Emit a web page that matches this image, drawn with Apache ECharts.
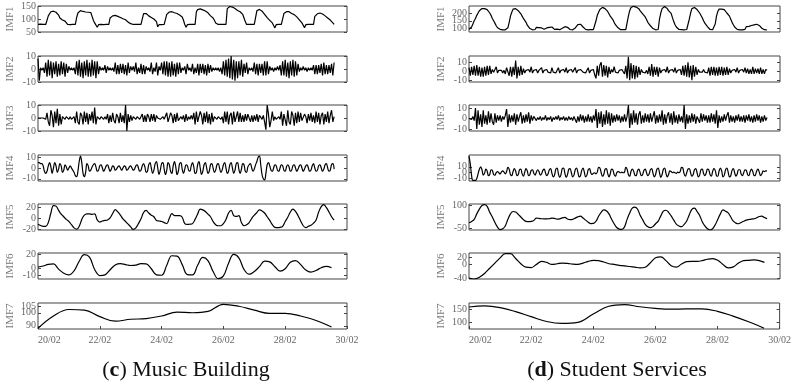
<!DOCTYPE html>
<html lang="en">
<head>
<meta charset="UTF-8">
<title>IMF decomposition</title>
<script src="https://cdn.jsdelivr.net/npm/echarts@6/dist/echarts.min.js"></script>
<style>
  html, body { margin: 0; padding: 0; background: #fff; }
  #main { width: 794px; height: 383px; }
</style>
</head>
<body>
<div id="main"></div>
<script>
// x axis in hours from 20/02 00:00, ticks every 2 days
var dayLabels = ['20/02', '22/02', '24/02', '26/02', '28/02', '30/02'];
var imfNames = ['IMF1', 'IMF2', 'IMF3', 'IMF4', 'IMF5', 'IMF6', 'IMF7'];

// ---- (c) Music Building ----
var musicImf1 = [ // hourly
  79,79,80,79,79,78,79,79,112,118,128,133,130,131,126,123,115,104,98,96,93,92,86,79,
  79,78,79,79,78,79,105,123,128,132,131,129,130,127,128,126,127,125,110,95,85,79,68,78,
  78,79,79,78,79,79,78,79,104,108,112,115,114,112,110,108,106,103,101,99,97,92,88,85,
  82,79,79,78,79,79,79,78,79,79,121,118,121,120,112,110,106,104,100,95,90,70,78,79,
  78,79,79,79,118,123,127,130,128,126,124,123,121,118,115,113,108,95,79,68,78,79,79,78,
  79,79,79,128,136,137,139,138,135,133,131,129,124,118,112,108,104,95,85,79,79,78,79,79,
  79,78,79,140,146,148,149,146,143,140,136,133,130,128,126,118,104,90,79,79,79,78,79,79,
  79,78,132,139,137,133,130,124,118,112,105,100,95,92,85,75,66,78,79,79,78,79,79,121,
  124,128,130,128,124,121,118,117,113,108,102,97,92,85,78,66,78,79,79,78,79,79,79,110,
  117,120,122,123,122,119,116,112,110,104,98,96,92,85,79
];
var musicImf2 = [ // hourly
  8,-9,1,-1,1,-3,5,-6,7,-5,6,-7,5,-4,6,-6,4,-5,6,-4,5,-6,4,-3,
  2,-1,1,-1,1,-4,6,-5,7,-6,5,-7,6,-5,7,-6,5,-6,7,-5,6,-7,6,-4,
  2,-1,1,-1,3,-3,2,-1,1,-1,1,-2,5,-4,3,-4,4,-3,4,-4,3,-5,5,-3,
  2,-1,2,-2,5,-4,1,-3,4,-4,3,-4,2,-1,1,-2,5,-4,1,-2,5,-5,2,-1,
  5,-4,6,-5,6,-6,5,-6,6,-5,4,-6,5,-4,5,-3,1,-1,2,-4,4,-1,1,-2,
  4,-4,1,-3,4,-5,4,-3,4,-4,3,-5,4,-3,3,-2,1,-1,1,-1,1,-2,1,-4,
  6,-5,7,-6,8,-7,10,-8,7,-9,6,-7,6,-5,7,-6,4,-3,5,-4,1,-1,1,-2,
  5,-4,4,-5,4,-3,4,-5,6,-5,6,-4,2,-1,1,-2,1,-1,2,-1,3,-5,6,-5,
  7,-6,5,-7,6,-5,7,-6,6,-5,4,-2,1,-1,2,-1,1,-2,1,-1,1,-1,3,-4,
  3,-4,3,-3,4,-5,5,-4,3,-4,3,-3,4,-5,5
];
var musicImf3 = [ // hourly
  0,1,0,-1,0,1,-1,4,-3,-6,6,2,-7,5,-4,7,-6,3,-5,
  1,0,-1,1,0,-1,1,-1,0,1,-4,5,-3,-5,4,2,-5,5,-3,4,-5,3,-2,5,-4,8,
  -5,1,0,-1,1,0,-1,1,-1,3,-4,2,-3,4,-2,-4,3,1,-4,4,-3,2,-4,
  10,-10,3,-3,2,-2,1,0,-1,1,0,-1,0,3,-3,2,-3,3,1,-3,3,-2,3,-3,2,
  0,1,-1,0,1,-1,0,4,-3,-4,4,2,-4,3,-3,4,-2,-3,1,-1,2,-3,3,-2,1,-1,2,-1,
  4,-5,5,-3,-4,5,2,-5,4,-3,5,-4,3,-5,4,-3,1,0,-1,1,0,-1,1,
  -4,5,-3,5,-5,2,4,-5,5,-3,-4,5,-3,4,-3,2,-3,3,-2,3,4,-3,2,-3,2,-2,3,-3,2,
  1,-1,2,-3,-9,10,3,-7,-2,5,-2,1,-1,0,1,-1,
  5,-6,3,4,-6,6,-3,-5,5,2,-6,4,-4,5,-3,4,-2,-3,3,1,-4,3,-2,4,-3,2,
  -4,5,-3,4,-5,2,4,-5,3,-3,5,-4,2,6,-3,1
];
var musicImf4 = [ // hourly
  5,5,4,4,2,-3,-5,-3,2,5,1,-5,0,5,2,-4,-1,4,2,-4,-2,3,1,-2,
  0,2,0,-2,-4,-7,-8,-3,6,11,5,-5,-8,-4,4,2,-3,-2,1,3,4,1,-3,-2,
  2,3,0,-3,-1,2,3,0,-3,-1,2,1,-2,-1,1,2,0,-2,0,2,1,-2,-1,1,
  2,0,-2,-1,2,3,0,-3,-2,2,4,1,-4,-3,3,5,0,-5,-2,4,6,0,-6,-2,
  4,5,-1,-6,-2,5,3,-3,-5,2,6,1,-6,-3,4,5,-1,-5,-1,3,2,-2,-3,2,
  5,1,-5,-4,3,6,0,-6,-3,3,5,0,-5,-3,3,4,0,-4,-2,3,4,0,-4,-2,
  3,5,0,-5,-3,3,5,0,-5,-2,4,5,-1,-5,-1,4,3,-3,-4,1,3,4,0,-3,
  -1,3,6,10,11,3,-6,-10,-11,-5,3,5,2,-2,-3,0,3,2,-2,-3,0,3,2,-2,
  -3,1,3,1,-3,-2,2,3,0,-3,-1,2,3,0,-3,-1,2,3,0,-3,-2,2,4,0,
  -3,-2,2,3,0,-3,-1,3,4,0,-3,-2,3,4,-1
];
var musicImf5 = [ // every 2 h
  -11,-13.5,-15,-15,-8,10,24,23,15,8,3,-2,-6,-12,-18,-20.5,-15,-2,6,8.5,
  8.5,7.5,8.5,-3,-7,-5,-4,-3,1,9,16.5,12,6,-1,-6,-11,-16,-21,-18,-10,
  -1,11,15,10,6,3,-4,-5,-6,-8,-10,0,9,5,5,5,2,-10,-11.5,-11,
  -10,-2,8,17.5,16,13,8,3,-6,-12,-14,-14,-10,-2,10,15,5,3.5,5,-8,
  -14,-12,-8,0,6,11,16,14,10,3,-4,-12,-17,-17.5,-17,-15,-6,2,12,17.5,
  13,5,-5,-14,-17.5,-15,-13,-9,-3,12,22,26,20,12,3,-3.5
];
var musicImf6 = [ // every 4 h
  1.5,3,5.5,6,-1.5,-7.5,-10,-4,10,19.5,16,-2,-11,-10,-2.5,4.5,6.4,5,3.7,4.2,
  6.5,6,-1,-10,-10.5,4,18,17.5,5,-9.5,-10,4,15.5,11,-5,-15.5,-11.5,7,20,15,
  -2,-9,-5,2,10,9,2,-4.5,-1,8.5,11,5,-3,-6,-3.5,0.5,2.5,0.5
];
var musicImf7 = [ // every 12 h
  88,97.5,102.5,102,97,93.5,95,95.5,97.5,100.5,100,101,106.5,105,102,99.5,99.5,97.5,94,89
];

// ---- (d) Student Services ----
var studentImf1 = [ // hourly
  96,100,110,130,150,165,185,200,215,225,229,232,228,225,222,215,200,185,165,150,135,118,105,97,
  95,93,92,94,92,93,105,140,180,205,225,231,228,222,215,210,195,180,165,155,140,122,110,100,
  93,92,93,94,108,104,106,100,104,98,96,98,104,106,108,112,110,100,95,93,96,94,93,95,
  102,110,112,115,108,98,94,93,92,96,104,116,125,132,128,120,110,100,95,93,92,92,93,92,
  93,98,150,185,205,222,232,236,233,228,220,210,195,180,168,158,140,125,115,105,98,93,92,93,
  92,93,94,180,215,235,244,243,240,238,236,228,215,205,195,188,175,158,140,128,118,108,100,93,
  92,93,94,160,200,228,238,242,236,228,215,205,198,170,145,125,110,100,94,92,93,92,92,93,
  94,95,160,200,228,233,235,230,222,210,200,190,170,150,135,125,112,100,94,92,93,93,130,180,
  210,225,226,225,226,222,210,200,190,180,160,140,125,110,100,95,93,92,93,92,104,95,112,117,
  114,118,120,122,124,126,128,127,120,110,102,96,93,92,91
];
var studentImf2 = [ // hourly
  4,-5,5,-4,6,-5,7,-5,5,-6,4,-6,5,-5,6,-4,6,-3,2,-1,1,5,-2,1,
  -1,1,-2,1,-3,4,6,-5,5,-6,5,-4,12,-8,5,-5,6,-4,3,-2,1,-1,2,-1,
  5,-2,1,-1,2,-2,1,-1,4,-2,1,-1,2,-1,1,-2,4,-1,1,-2,1,4,-2,1,
  -1,2,-1,4,-2,1,-1,2,-1,1,4,-2,1,-1,2,3,-1,1,-2,1,4,-2,1,-1,
  2,-4,-8,6,-5,7,10,-6,7,-5,6,-7,5,-3,2,-1,5,-1,1,-2,1,-1,2,4,
  -3,6,-8,16,-10,9,-8,7,-9,6,-7,5,-4,2,-1,1,-2,1,-3,5,-5,8,-6,5,
  -4,5,-6,4,-2,1,-1,2,-1,5,-2,1,-1,2,-1,4,-2,1,-1,2,-4,6,-5,7,
  -6,10,-7,6,-10,7,-6,5,-4,2,-1,1,-1,2,-1,1,-2,4,-5,5,-4,5,-5,4,
  -5,5,-4,5,-5,4,-4,5,-4,3,-2,1,-1,2,-1,4,-2,1,-1,2,-1,4,-2,3,
  -3,2,-3,5,-3,3,-2,3,-3,4,-3,2,-3,2,1
];
var studentImf3 = [ // hourly
  0,1,-1,2,-2,10,-10,8,-6,4,-8,8,-5,3,-6,7,-4,5,-3,-6,5,-4,3,
  -2,3,-3,2,-1,3,9,-8,4,
  -4,3,-3,5,-6,4,-3,2,6,-5,3,-4,4,-3,6,-5,3,-2,2,
  1,-2,1,-1,2,-2,1,-1,3,-2,1,-1,2,-3,1,-1,2,-1,3,-2,1,-1,2,-2,1,-2,2,-1,1,-2,2,
  3,-4,2,-3,4,-2,3,-4,2,-3,4,-3,2,-4,3,-2,
  9,-9,6,-5,7,-8,4,-6,8,-5,6,-7,5,-4,3,-3,4,-2,3,-4,2,-3,4,-3,2,
  13,-9,5,-6,8,-4,5,-6,4,7,-5,3,-4,5,-3,4,-4,5,-3,2,7,-5,3,-4,4,-3,
  8,-6,4,-5,3,6,-4,5,-6,7,-4,3,-5,4,-3,2,-4,13,-10,
  4,-5,3,-4,5,-3,4,-5,2,3,-4,5,-3,4,-2,3,-4,3,-4,5,-3,4,-5,8,-9,
  3,-4,2,-3,4,-2,3,6,-4,3,-3,2,-4,3,-2,4,-3,2,-3,3,
  -4,3,-2,4,-3,2,-4,3,-3,4,-2,3,-4,2,-3,3,-2,1
];
var studentImf4 = [ // hourly
  28,15,-5,-13,-13,-13,-10,-2,6,10,5,-4,-1,6,3,-5,-3,5,4,-3,-4,0,2,0,
  -2,1,3,1,-2,2,9,6,-3,-5,2,7,3,-5,-3,5,6,-2,-6,1,7,3,-5,-3,
  4,5,-1,-4,1,5,2,-4,-2,4,6,0,-5,-2,5,7,-1,-7,-4,6,8,-2,-8,-3,
  7,8,-1,-8,-3,6,7,0,-7,-4,5,8,1,-7,-5,4,8,1,-7,-4,5,7,0,-3,
  -1,0,-2,1,9,8,0,-6,-3,6,7,-1,-7,-2,6,5,-3,-6,0,2,1,0,1,0,
  1,9,6,-3,-6,2,6,3,-4,-5,3,6,1,-5,-3,4,6,0,-5,-2,5,7,-1,-7,
  -3,6,8,0,-8,-3,6,8,-1,-7,-3,3,2,0,1,0,-1,1,0,2,9,8,-2,-6,
  0,6,7,0,-6,-3,5,7,0,-7,-4,5,6,-1,-5,-1,6,5,-3,-6,2,7,4,-5,
  -6,3,8,3,-7,-4,5,8,1,-7,-5,4,7,0,-6,-2,5,5,-2,-5,0,5,4,-3,
  -5,2,6,2,-5,-4,3,6,1,-5,-2,3,2,3,3
];
var studentImf5 = [ // every 2 h
  -12,-3,10,45,75,98,104,93,55,25,-10,-40,-56,-50,-32,10,45,60,57,42,
  25,8,-3,-5,-3,3,18,16,14,13,13,14,18,16,11,13,19,22,12,8,
  10,18,26,30,18,5,-8,-17,-16,-2,30,55,71,65,45,12,-18,-42,-52,-54,
  -38,10,50,82,88,76,38,8,-22,-38,-43,-35,-18,-1,32,62,68,55,32,5,
  -20,-32,-37,-22,0,40,74,82,60,35,-5,-32,-50,-58,-50,-25,10,45,70,62,
  51,25,-2,-14,-18,-10,-2,5,9,12,14,20,28,30,22,14
];
var studentImf6 = [ // every 4 h
  -40,-43,-38,-27,-12,3,18,30,30,16,1,-9,-10,-1,8,5,-1,1,3,2,
  0,-1,3,8,11,10,6,1,-1,-3.5,-5,-7,-9,-11,-9,4,18,21,10,-5,
  -9,0,7,8,8,10,14,16,11,-1,-11,-8,3,10,11,12,10,5
];
var studentImf7 = [ // every 12 h
  157,161,155,140,121,103,96,100,131,160,166,158,152,149,150,150,141,123,102,78
];

// value ranges and tick labels
var musicRanges = [[50, 150], [-10, 10], [-10, 10], [-12, 12], [-22, 27], [-16, 22], [87.5, 107.5]];
var musicTicks = [[50, 100, 150], [-10, 0, 10], [-10, 0, 10], [-10, 0, 10], [-20, 0, 20], [-10, 0, 20], [90, 100, 105]];
var studentRanges = [[78, 245], [-12, 17], [-12, 13], [-14, 30], [-58, 108], [-43, 32], [75, 172]];
var studentTicks = [[100, 150, 200], [-10, 0, 10], [-10, 0, 10], [-10, 0, 10], [-50, 100], [-40, 0, 20], [100, 150]];

var musicSeries = [musicImf1, musicImf2, musicImf3, musicImf4, musicImf5, musicImf6, musicImf7];
var studentSeries = [studentImf1, studentImf2, studentImf3, studentImf4, studentImf5, studentImf6, studentImf7];
var stepHours = [1, 1, 1, 1, 2, 4, 12];

var FONT = 'Liberation Serif';
var panelTops = [6, 56, 105, 155, 204, 253, 303];
var grids = [], xAxes = [], yAxes = [], series = [];

function yLabelAxis(idx, range, labels, extra) {
  var ax = {
    type: 'value', gridIndex: idx, position: 'left', offset: 0,
    min: range[0], max: range[1],
    axisLine: { show: false }, splitLine: { show: false },
    axisTick: { show: false },
    axisLabel: {
      customValues: labels, color: '#666', fontFamily: FONT, fontSize: 10,
      margin: 2, hideOverlap: false, showMinLabel: true, showMaxLabel: true
    }
  };
  for (var k in extra) ax[k] = extra[k];
  return ax;
}

function addPanel(col, i, values, range, ticks) {
  var idx = grids.length;
  grids.push({
    left: col === 0 ? 38 : 469,
    width: col === 0 ? 309 : 311,
    top: panelTops[i],
    height: 26,
    show: true,
    borderColor: '#444',
    borderWidth: 1
  });
  var last = i === 6;
  xAxes.push({
    type: 'value', gridIndex: idx, min: 0, max: 240, interval: 48,
    axisLine: { show: false }, splitLine: { show: false },
    axisTick: { show: last, inside: true, length: 3, lineStyle: { color: '#444' } },
    axisLabel: {
      show: last, color: '#666', fontFamily: FONT, fontSize: 10, margin: 6,
      alignMinLabel: 'left', hideOverlap: false,
      formatter: function (v) { return dayLabels[Math.round(v / 48)]; }
    }
  });
  // labels are split over two axes so close labels are not dropped
  var outer = ticks.filter(function (t, k) { return k % 2 === 0; });
  var inner = ticks.filter(function (t, k) { return k % 2 === 1; });
  var mainIndex = yAxes.length;
  yAxes.push(yLabelAxis(idx, range, outer, {
    name: imfNames[i], nameLocation: 'middle', nameGap: 22,
    nameTextStyle: { color: '#777', fontFamily: FONT, fontSize: 11 },
    axisTick: { inside: true, length: 3, customValues: ticks, lineStyle: { color: '#444' } }
  }));
  yAxes.push(yLabelAxis(idx, range, inner, {}));
  // ticks on the right edge of the box
  yAxes.push({
    type: 'value', gridIndex: idx, position: 'right', offset: 0,
    min: range[0], max: range[1],
    axisLine: { show: false }, splitLine: { show: false },
    axisTick: { inside: true, length: 3, customValues: ticks, lineStyle: { color: '#444' } },
    axisLabel: { show: false }
  });
  var step = stepHours[i];
  series.push({
    type: 'line', xAxisIndex: idx, yAxisIndex: mainIndex,
    data: values.map(function (v, k) { return [k * step, v]; }),
    showSymbol: false, symbol: 'none',
    smooth: i >= 3 ? 0.4 : false,
    lineStyle: { color: '#000', width: 1.2 },
    clip: true
  });
}

for (var i = 0; i < 7; i++) {
  addPanel(0, i, musicSeries[i], musicRanges[i], musicTicks[i]);
  addPanel(1, i, studentSeries[i], studentRanges[i], studentTicks[i]);
}

var captionStyle = {
  fontFamily: FONT, fontSize: 22, color: '#111', fontWeight: 'normal',
  rich: {
    p: { fontFamily: FONT, fontSize: 22, color: '#111', fontWeight: 'normal' },
    b: { fontFamily: FONT, fontSize: 22, color: '#111', fontWeight: 'bold' }
  }
};

var myChart = echarts.init(document.getElementById('main'));
var option = {
  animation: false,
  backgroundColor: '#fff',
  title: [
    { text: '{p|(}{b|c}{p|) Music Building}', left: 181, top: 354, textAlign: 'center', textStyle: captionStyle },
    { text: '{p|(}{b|d}{p|) Student Services}', left: 612, top: 354, textAlign: 'center', textStyle: captionStyle }
  ],
  grid: grids,
  xAxis: xAxes,
  yAxis: yAxes,
  series: series
};
myChart.setOption(option);
</script>
</body>
</html>
